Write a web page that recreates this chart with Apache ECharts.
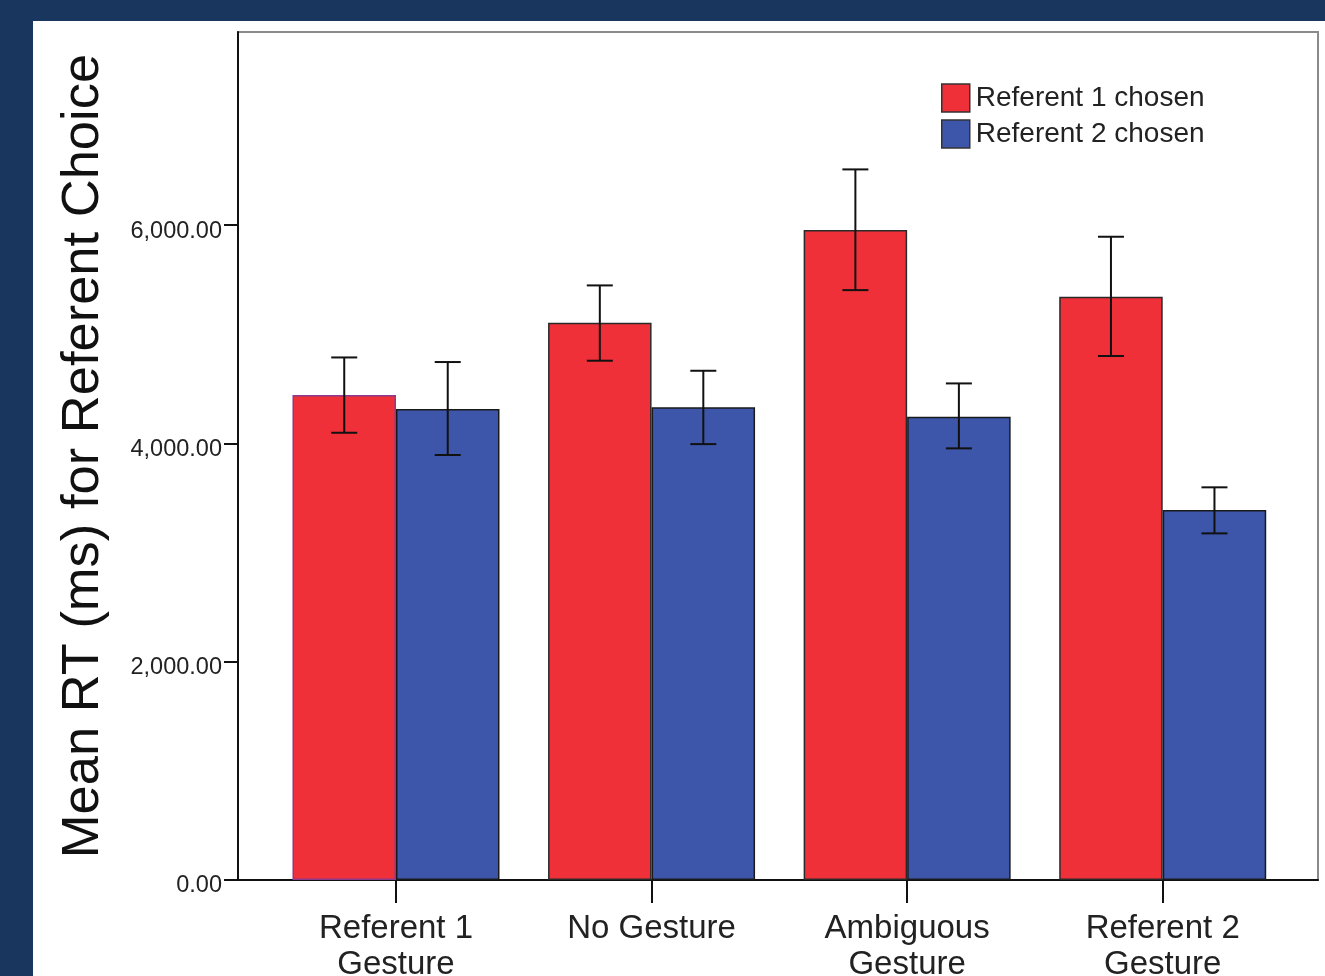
<!DOCTYPE html>
<html>
<head>
<meta charset="utf-8">
<title>Mean RT for Referent Choice</title>
<script src="https://cdn.jsdelivr.net/npm/echarts@6/dist/echarts.min.js"></script>
<style>
  html, body { margin: 0; padding: 0; width: 1325px; height: 976px; background: #19365e; overflow: hidden; }
  #panel { position: absolute; left: 33px; top: 21px; right: 0; bottom: 0; background: #ffffff; }
  #chart { position: absolute; left: 0; top: 0; width: 1325px; height: 976px; }
</style>
</head>
<body>
<div id="panel"></div>
<div id="chart"></div>
<script>
// Gesture conditions along the x axis
const categories = ['Referent 1\nGesture', 'No Gesture', 'Ambiguous\nGesture', 'Referent 2\nGesture'];
const seriesNames = ['Referent 1 chosen', 'Referent 2 chosen'];

// Mean reaction times (ms)
const ref1Means = [4443, 5106, 5955, 5344];
const ref2Means = [4315, 4331, 4245, 3390];

// Error bar ends (ms): [low, high]
const ref1Err = [[4098, 4788], [4758, 5448], [5405, 6511], [4801, 5894]];
const ref2Err = [[3894, 4746], [3994, 4666], [3955, 4550], [3176, 3598]];

// Y axis tick values
const yTicks = [0, 2000, 4000, 6000];
const yMax = 7770;

const RED = '#ef3039';
const BLUE = '#3d56a9';
const FONT = "'Liberation Sans', Arial, sans-serif";
const BAR_W = 103.5;

const chart = echarts.init(document.getElementById('chart'), null, { renderer: 'canvas' });

function errSeries(name, err, offset) {
  return {
    type: 'custom',
    name: name + ' error',
    xAxisIndex: 1,
    yAxisIndex: 1,
    z: 5,
    silent: true,
    data: err.map((e, i) => [i, e[0], e[1]]),
    renderItem: function (params, api) {
      const lo = api.coord([api.value(0), api.value(1)]);
      const hi = api.coord([api.value(0), api.value(2)]);
      const x = lo[0] + offset;
      const cap = 13;
      const style = { stroke: '#111', lineWidth: 2 };
      return {
        type: 'group',
        children: [
          { type: 'line', shape: { x1: x, y1: lo[1], x2: x, y2: hi[1] }, style: style },
          { type: 'line', shape: { x1: x - cap, y1: hi[1], x2: x + cap, y2: hi[1] }, style: style },
          { type: 'line', shape: { x1: x - cap, y1: lo[1], x2: x + cap, y2: lo[1] }, style: style }
        ]
      };
    }
  };
}

const option = {
  backgroundColor: 'transparent',
  animation: false,
  textStyle: { fontFamily: FONT },
  legend: {
    orient: 'vertical',
    left: 941,
    top: 76.5,
    padding: 0,
    itemWidth: 28,
    itemHeight: 28,
    itemGap: -7,
    icon: 'rect',
    data: seriesNames,
    textStyle: { fontSize: 28, lineHeight: 28, color: '#222', fontFamily: FONT, padding: [15, 0, 0, 1] },
    itemStyle: { borderColor: '#333', borderWidth: 1.5 }
  },
  grid: [
    { left: 238, right: 7, top: 32, bottom: 96, outerBoundsMode: 'none', show: true, borderColor: '#8a8a8a', borderWidth: 2, backgroundColor: 'transparent' },
    { left: 268.2, right: 34.5, top: 32, bottom: 96, outerBoundsMode: 'none' }
  ],
  xAxis: [
    {
      type: 'value', gridIndex: 0, min: 0, max: 1,
      axisLine: { show: true, lineStyle: { color: '#111', width: 2 } },
      axisTick: { show: false }, axisLabel: { show: false }, splitLine: { show: false }
    },
    {
      type: 'category', gridIndex: 1, data: categories,
      axisLine: { show: false },
      axisTick: { show: true, alignWithLabel: true, length: 23, lineStyle: { color: '#111', width: 2 } },
      axisLabel: { fontSize: 33, color: '#222', margin: 31, lineHeight: 36, fontFamily: FONT },
      splitLine: { show: false }
    }
  ],
  yAxis: [
    {
      type: 'value', gridIndex: 0, min: 0, max: yMax,
      name: 'Mean RT (ms) for Referent Choice',
      nameLocation: 'middle',
      nameGap: 128,
      nameTextStyle: { fontSize: 52.5, color: '#111', fontFamily: FONT },
      axisLine: { show: true, lineStyle: { color: '#111', width: 2 } },
      axisTick: { show: true, length: 14, customValues: yTicks, lineStyle: { color: '#111', width: 2 } },
      axisLabel: {
        customValues: yTicks, fontSize: 23.5, color: '#222', margin: 16, fontFamily: FONT,
        verticalAlign: 'top', lineHeight: 12,
        formatter: v => Number(v).toLocaleString('en-US', { minimumFractionDigits: 2, maximumFractionDigits: 2 })
      },
      splitLine: { show: false }
    },
    {
      type: 'value', gridIndex: 1, min: 0, max: yMax, show: false, splitLine: { show: false }
    }
  ],
  series: [
    {
      type: 'bar', name: seriesNames[0], xAxisIndex: 1, yAxisIndex: 1,
      barWidth: BAR_W, barGap: '0%',
      itemStyle: { color: RED, borderColor: '#2a2a2a', borderWidth: 1.5 },
      data: ref1Means.map((v, i) => i === 0
        ? { value: v, itemStyle: { borderColor: '#8e3a8c' } }
        : v)
    },
    {
      type: 'bar', name: seriesNames[1], xAxisIndex: 1, yAxisIndex: 1,
      barWidth: BAR_W, barGap: '0%',
      itemStyle: { color: BLUE, borderColor: '#1a1a1a', borderWidth: 1.5 },
      data: ref2Means
    },
    errSeries(seriesNames[0], ref1Err, -BAR_W / 2),
    errSeries(seriesNames[1], ref2Err, BAR_W / 2)
  ]
};

chart.setOption(option);
</script>
</body>
</html>
